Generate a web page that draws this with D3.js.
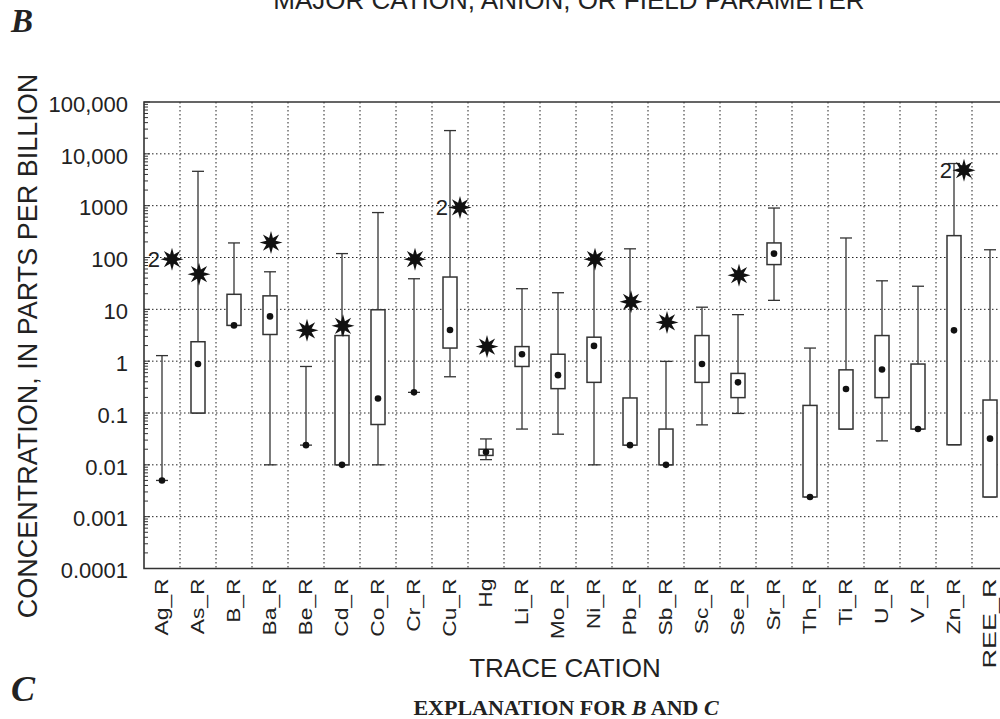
<!DOCTYPE html>
<html><head><meta charset="utf-8">
<script src="https://cdn.jsdelivr.net/npm/d3@7"></script>
<style>
html,body{margin:0;padding:0;background:#fff;}
svg{display:block;}
</style></head>
<body>
<svg id="chart" width="1000" height="719"></svg>
<script>
const categories = ["Ag_R","As_R","B_R","Ba_R","Be_R","Cd_R","Co_R","Cr_R","Cu_R","Hg","Li_R","Mo_R","Ni_R","Pb_R","Sb_R","Sc_R","Se_R","Sr_R","Th_R","Ti_R","U_R","V_R","Zn_R","REE_R"];
const minVals = [0.005,0.1,4.9,0.01,0.024,0.01,0.01,0.25,0.5,0.0126,0.049,0.039,0.01,0.024,0.01,0.059,0.098,14.9,0.0024,0.049,0.029,0.049,0.0244,0.0024];
const q1Vals  = [0.005,0.1,4.9,3.27,0.024,0.01,0.06,0.25,1.79,0.0152,0.79,0.295,0.39,0.024,0.01,0.39,0.198,73,0.0024,0.049,0.198,0.049,0.0244,0.0024];
const medVals = [0.005,0.88,4.9,7.3,0.024,0.01,0.19,0.25,4.0,0.0177,1.36,0.537,1.97,0.024,0.01,0.88,0.39,119,0.0024,0.29,0.69,0.049,3.93,0.032];
const q3Vals  = [0.005,2.37,19.5,18.2,0.024,3.12,9.8,0.25,42,0.02,1.91,1.36,2.9,0.195,0.049,3.12,0.58,191,0.14,0.68,3.12,0.88,264,0.178];
const maxVals = [1.28,4600,191,53,0.79,119,736,38.9,28100,0.0316,25,20.9,90,147,0.99,11,7.9,900,1.79,238,35.5,27.9,6500,141];
const starVals = [93,47.6,null,194,3.93,4.8,null,93,926,1.91,null,null,93,14,5.6,null,45.5,null,null,null,null,null,4830,null];
const starLabels = ["2","","","","","","","","2","","","","","","","","","","","","","","2",""];
const yTickVals = [0.0001,0.001,0.01,0.1,1,10,100,1000,10000,100000];
const yTickLabels = ["0.0001","0.001","0.01","0.1","1","10","100","1000","10,000","100,000"];
const titleTop = "MAJOR CATION, ANION, OR FIELD PARAMETER";
const yTitle = "CONCENTRATION, IN PARTS PER BILLION";
const xTitle = "TRACE CATION";

(function () {
const svg = d3.select("#chart");
const pL = 144, pR = 1008, pT = 102, pB = 568.5;
const sans = "'Liberation Sans', Arial, Helvetica, sans-serif";
const serif = "'Liberation Serif', 'Times New Roman', serif";

const x = d3.scaleBand().domain(categories).range([pL, pR]).padding(0);
const y = d3.scaleLog().domain([0.0001, 100000]).range([pB, pT]);
const cx = c => x(c) + x.bandwidth() / 2;

const data = categories.map((c, i) => ({
  c, min: minVals[i], q1: q1Vals[i], med: medVals[i], q3: q3Vals[i], max: maxVals[i],
  star: starVals[i], lab: starLabels[i]
}));

const g = svg.append("g");
const decades = yTickVals.slice(1, -1);
g.selectAll("line.hg").data(decades).join("line")
  .attr("x1", pL).attr("x2", pR).attr("y1", d => y(d)).attr("y2", d => y(d))
  .attr("stroke", "#222").attr("stroke-width", 1).attr("stroke-dasharray", "1.5,2.5");
g.selectAll("line.vg").data(categories.slice(1)).join("line")
  .attr("x1", d => x(d)).attr("x2", d => x(d)).attr("y1", pT).attr("y2", pB)
  .attr("stroke", "#222").attr("stroke-width", 1).attr("stroke-dasharray", "1.5,2.5");

const minor = [];
for (let e = -4; e < 5; e++) for (let k = 2; k <= 9; k++) minor.push(k * Math.pow(10, e));
g.selectAll("line.mt").data(minor).join("line")
  .attr("x1", pL).attr("x2", pL + 4).attr("y1", d => y(d)).attr("y2", d => y(d))
  .attr("stroke", "#333").attr("stroke-width", 1);
g.selectAll("line.Mt").data(yTickVals).join("line")
  .attr("x1", pL).attr("x2", pL + 6).attr("y1", d => y(d)).attr("y2", d => y(d))
  .attr("stroke", "#333").attr("stroke-width", 1);

svg.append("path").attr("d", `M${pR},${pT}H${pL}V${pB}H${pR}`)
  .attr("fill", "none").attr("stroke", "#333").attr("stroke-width", 1.6);

svg.selectAll("text.yt").data(yTickVals).join("text")
  .attr("x", 128).attr("y", d => y(d)).attr("dy", "0.44em")
  .attr("text-anchor", "end").attr("font-family", sans).attr("font-size", 22).attr("fill", "#222")
  .text((d, i) => yTickLabels[i]);

svg.selectAll("text.xt").data(categories).join("text")
  .attr("transform", d => `translate(${cx(d)},${pB + 10}) rotate(-90) scale(${d.length > 4 ? 1.42 : 1.2},1)`)
  .attr("dy", "0.32em").attr("text-anchor", "end")
  .attr("font-family", sans).attr("font-size", 19).attr("fill", "#222").text(d => d);

const bw = 14, capw = 12;
const b = svg.append("g").selectAll("g").data(data).join("g");
b.append("line").attr("x1", d => cx(d.c)).attr("x2", d => cx(d.c))
  .attr("y1", d => y(d.max)).attr("y2", d => y(d.min)).attr("stroke", "#333").attr("stroke-width", 1.3);
b.append("line").attr("x1", d => cx(d.c) - capw / 2).attr("x2", d => cx(d.c) + capw / 2)
  .attr("y1", d => y(d.max)).attr("y2", d => y(d.max)).attr("stroke", "#333").attr("stroke-width", 1.3);
b.append("line").attr("x1", d => cx(d.c) - capw / 2).attr("x2", d => cx(d.c) + capw / 2)
  .attr("y1", d => y(d.min)).attr("y2", d => y(d.min)).attr("stroke", "#333").attr("stroke-width", 1.3);
b.filter(d => d.q3 > d.q1).append("rect")
  .attr("x", d => cx(d.c) - bw / 2).attr("width", bw)
  .attr("y", d => y(d.q3)).attr("height", d => y(d.q1) - y(d.q3))
  .attr("fill", "#fff").attr("stroke", "#333").attr("stroke-width", 1.5);
b.append("circle").attr("cx", d => cx(d.c)).attr("cy", d => y(d.med)).attr("r", 3.3).attr("fill", "#111");

function starPath(R, r) {
  const pts = [];
  for (let i = 0; i < 16; i++) {
    const a = i * Math.PI / 8 - Math.PI / 2;
    const rr = i % 2 === 0 ? R : r;
    pts.push([rr * Math.cos(a), rr * Math.sin(a)]);
  }
  return "M" + pts.map(p => p[0].toFixed(2) + "," + p[1].toFixed(2)).join("L") + "Z";
}
const sp = starPath(11.5, 5);
const sd = data.filter(d => d.star != null);
svg.append("g").selectAll("path").data(sd).join("path")
  .attr("d", sp)
  .attr("transform", d => `translate(${cx(d.c) + (d.lab ? 10 : 1)},${y(d.star)})`)
  .attr("fill", "#111");
svg.append("g").selectAll("text").data(sd.filter(d => d.lab)).join("text")
  .attr("x", d => cx(d.c) - 2).attr("y", d => y(d.star)).attr("dy", "0.36em")
  .attr("text-anchor", "end").attr("font-family", sans).attr("font-size", 22).attr("fill", "#222")
  .text(d => d.lab);

svg.append("text").attr("x", 569).attr("y", 8.5).attr("text-anchor", "middle")
  .attr("font-family", sans).attr("font-size", 26).attr("fill", "#222").text(titleTop);
svg.append("text").attr("transform", "translate(37,346) rotate(-90)").attr("text-anchor", "middle")
  .attr("font-family", sans).attr("font-size", 27).attr("fill", "#222").text(yTitle);
svg.append("text").attr("x", 565).attr("y", 677).attr("text-anchor", "middle")
  .attr("font-family", sans).attr("font-size", 26).attr("fill", "#222").text(xTitle);

svg.append("text").attr("x", 11).attr("y", 32).attr("font-family", serif).attr("font-size", 33)
  .attr("font-style", "italic").attr("font-weight", "bold").attr("fill", "#222").text("B");
svg.append("text").attr("x", 11).attr("y", 701).attr("font-family", serif).attr("font-size", 36)
  .attr("font-style", "italic").attr("font-weight", "bold").attr("fill", "#222").text("C");

const ex = svg.append("text").attr("x", 566).attr("y", 715).attr("text-anchor", "middle")
  .attr("font-family", serif).attr("font-size", 22).attr("font-weight", "bold").attr("fill", "#222");
ex.append("tspan").text("EXPLANATION FOR ");
ex.append("tspan").attr("font-style", "italic").text("B");
ex.append("tspan").text(" AND ");
ex.append("tspan").attr("font-style", "italic").text("C");
})();
</script>
</body></html>
